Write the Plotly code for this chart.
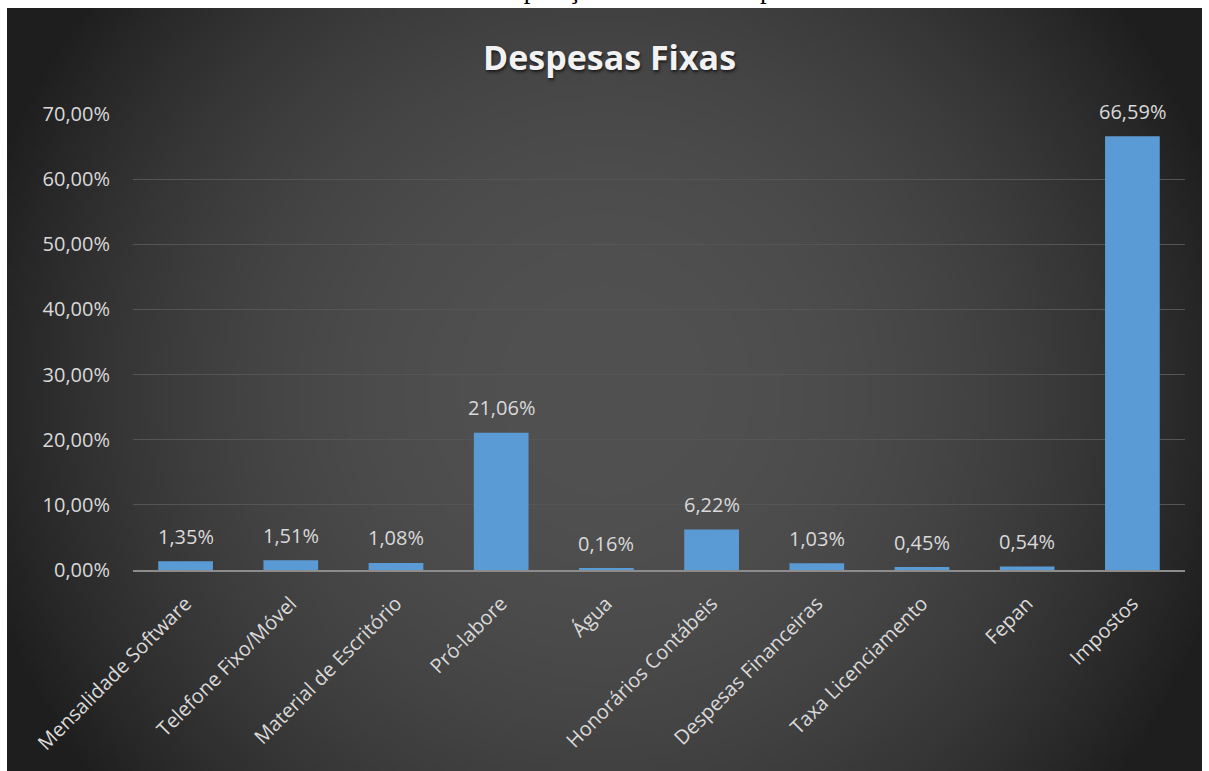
import base64, struct, zlib
import numpy as np
import plotly.graph_objects as go

categories = ["Mensalidade Software", "Telefone Fixo/Móvel", "Material de Escritório",
              "Pró-labore", "Água", "Honorários Contábeis", "Despesas Financeiras",
              "Taxa Licenciamento", "Fepan", "Impostos"]
values = [0.0135, 0.0151, 0.0108, 0.2106, 0.0016, 0.0622, 0.0103, 0.0045, 0.0054, 0.6659]
y_ticks = [0, 0.1, 0.2, 0.3, 0.4, 0.5, 0.6, 0.7]

W, H = 1209, 771
L, R, T, B = 133, 24, 114, 201
PW, PH = W - L - R, H - T - B

def px_x(px):
    return (px - L) / PW

def px_y(py):
    return (H - B - py) / PH

# background radial gradient image (style only)
gw, gh = 240, 152
xx, yy = np.meshgrid(np.linspace(-1, 1, gw), np.linspace(-1, 1, gh))
r = np.sqrt(xx ** 2 + (yy * 763 / 1195) ** 2)
val = np.clip(81 - 42 * r ** 2.2, 30, 90).astype(np.uint8)
rgb = np.stack([val, val, val + 1], axis=-1).astype(np.uint8)
raw = b"".join(b"\x00" + rgb[i].tobytes() for i in range(gh))
def chunk(t, d):
    c = struct.pack(">I", len(d)) + t + d
    return c + struct.pack(">I", zlib.crc32(t + d) & 0xffffffff)
png = b"\x89PNG\r\n\x1a\n" + chunk(b"IHDR", struct.pack(">IIBBBBB", gw, gh, 8, 2, 0, 0, 0)) \
      + chunk(b"IDAT", zlib.compress(raw, 9)) + chunk(b"IEND", b"")
bg_src = "data:image/png;base64," + base64.b64encode(png).decode()

label_font = dict(color="#d9d9d9", size=20, family="Open Sans")

fig = go.Figure()
fig.add_trace(go.Bar(
    x=categories, y=values,
    marker=dict(color="#5b9bd5", line=dict(width=0)),
    width=0.52,
    hoverinfo="x+y",
))

for c, v in zip(categories, values):
    fig.add_annotation(x=c, y=v, xref="x", yref="y",
                       text=f"{v * 100:.2f}%".replace(".", ","),
                       showarrow=False, yanchor="middle", yshift=25,
                       font=label_font)

fig.add_layout_image(dict(
    source=bg_src, xref="paper", yref="paper",
    x=px_x(7), y=px_y(8),
    sizex=(1202 - 7) / PW, sizey=(771 - 8) / PH,
    xanchor="left", yanchor="top", sizing="stretch", layer="below",
))

fig.add_annotation(text="Gráfico 5 – Composição média das despesas fixas",
                   xref="paper", yref="paper", x=px_x(610), y=px_y(-11),
                   yanchor="middle", showarrow=False,
                   font=dict(family="Liberation Serif", size=26.5, color="#000000"))
fig.add_annotation(text="<b>Despesas Fixas</b>",
                   xref="paper", yref="paper", x=px_x(609), y=px_y(57),
                   yanchor="middle", showarrow=False,
                   font=dict(family="Open Sans", size=34, color="#f2f2f2",
                             shadow="1px 2px 3px #1a1a1a"))

fig.update_layout(
    width=W, height=H,
    margin=dict(l=L, r=R, t=T, b=B),
    paper_bgcolor="#ffffff", plot_bgcolor="rgba(0,0,0,0)",
    separators=",.",
    showlegend=False,
    xaxis=dict(tickangle=-45, tickfont=label_font,
               showgrid=False, showline=True, linecolor="#8c8c8c", linewidth=2,
               ticks="", ticklabelstandoff=12),
    yaxis=dict(range=[0, 0.7], tickvals=y_ticks, tickformat=".2%",
               tickfont=label_font,
               gridcolor="#555555", gridwidth=1, zeroline=False, showline=False,
               ticks="", ticklabelstandoff=22),
)
fig.write_html("out.html")
